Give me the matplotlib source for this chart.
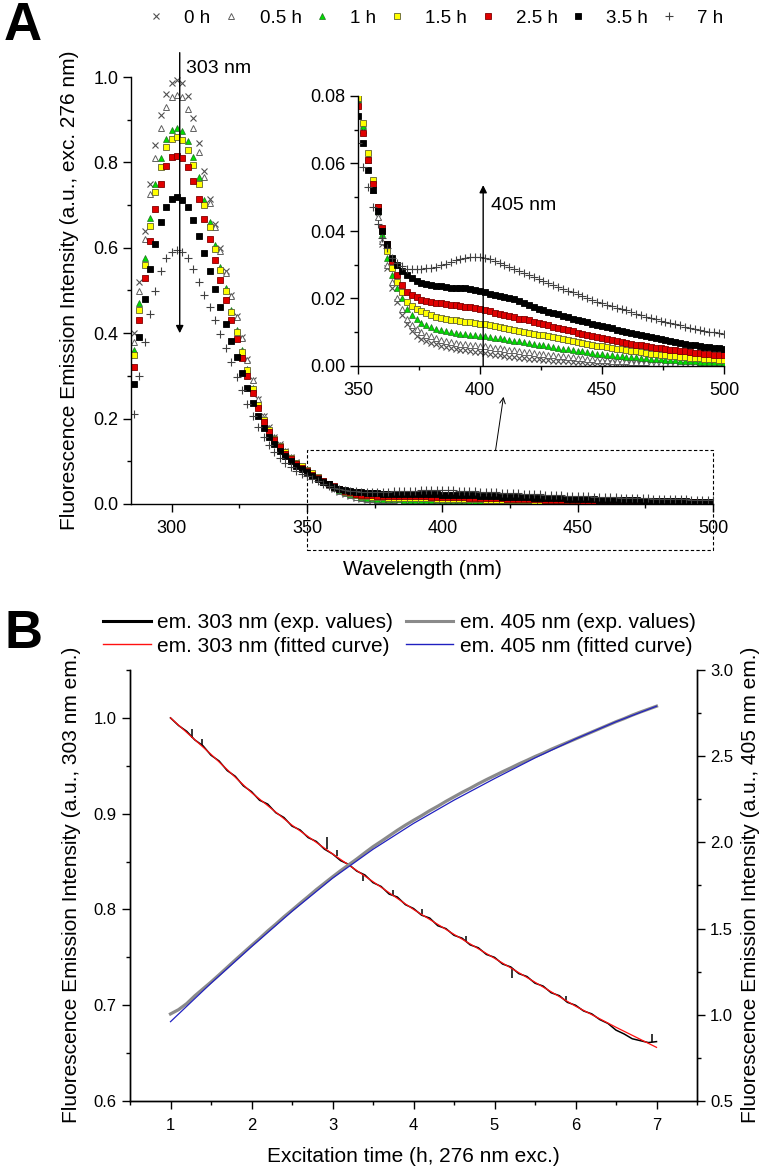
import numpy as np
import matplotlib
matplotlib.use('Agg')
import matplotlib.pyplot as plt
from matplotlib.lines import Line2D
from matplotlib.patches import Rectangle
from matplotlib.ticker import MultipleLocator, FormatStrFormatter

plt.rcParams['font.family'] = ['Liberation Sans', 'DejaVu Sans']

# ─── DATA panel A : emission spectra (exc. 276 nm), 2 nm sampling ───
wavelength = np.arange(286, 501, 2)
series_labels = ['0 h', '0.5 h', '1 h', '1.5 h', '2.5 h', '3.5 h', '7 h']

# 286 .. 350 nm
head_0h = [0.40, 0.52, 0.64, 0.75, 0.84, 0.91, 0.96, 0.985, 0.993, 0.985,
           0.955, 0.905, 0.845, 0.78, 0.715, 0.655, 0.60, 0.545, 0.49, 0.44,
           0.39, 0.34, 0.29, 0.245, 0.205, 0.18, 0.158, 0.14, 0.124, 0.11,
           0.098, 0.088, 0.080]
head_05h = [0.38, 0.50, 0.62, 0.725, 0.81, 0.88, 0.93, 0.953, 0.959, 0.952,
            0.925, 0.88, 0.825, 0.765, 0.705, 0.648, 0.593, 0.54, 0.488, 0.438,
            0.388, 0.338, 0.29, 0.245, 0.205, 0.179, 0.157, 0.139, 0.123, 0.109,
            0.097, 0.087, 0.079]
head_1h = [0.36, 0.47, 0.575, 0.67, 0.75, 0.81, 0.855, 0.877, 0.881, 0.874,
           0.85, 0.812, 0.765, 0.713, 0.66, 0.607, 0.555, 0.505, 0.455, 0.407,
           0.36, 0.315, 0.272, 0.233, 0.198, 0.174, 0.154, 0.137, 0.122, 0.108,
           0.097, 0.087, 0.079]
head_15h = [0.35, 0.455, 0.56, 0.65, 0.73, 0.79, 0.835, 0.855, 0.859, 0.852,
            0.83, 0.795, 0.75, 0.70, 0.648, 0.597, 0.547, 0.498, 0.45, 0.403,
            0.357, 0.313, 0.27, 0.232, 0.197, 0.173, 0.153, 0.136, 0.121, 0.108,
            0.097, 0.088, 0.0795]
head_25h = [0.32, 0.43, 0.53, 0.615, 0.69, 0.75, 0.792, 0.812, 0.816, 0.81,
            0.79, 0.757, 0.715, 0.668, 0.62, 0.572, 0.525, 0.478, 0.432, 0.387,
            0.343, 0.30, 0.26, 0.224, 0.191, 0.168, 0.149, 0.133, 0.118, 0.105,
            0.094, 0.085, 0.077]
head_35h = [0.28, 0.39, 0.48, 0.55, 0.61, 0.66, 0.695, 0.714, 0.719, 0.713,
            0.695, 0.665, 0.628, 0.588, 0.546, 0.504, 0.462, 0.421, 0.382, 0.344,
            0.307, 0.271, 0.237, 0.205, 0.177, 0.157, 0.14, 0.125, 0.112, 0.1,
            0.09, 0.081, 0.074]
head_7h = [0.21, 0.30, 0.38, 0.445, 0.50, 0.545, 0.575, 0.59, 0.594, 0.59,
           0.575, 0.55, 0.52, 0.49, 0.462, 0.43, 0.398, 0.365, 0.332, 0.298,
           0.266, 0.235, 0.206, 0.18, 0.157, 0.138, 0.122, 0.108, 0.096, 0.086,
           0.078, 0.071, 0.066]

# 352 .. 500 nm
tail_0h = [0.070, 0.061, 0.052, 0.044, 0.036, 0.029, 0.023, 0.019, 0.015, 0.0125,
           0.0105, 0.009, 0.0081, 0.0074, 0.0068, 0.0064, 0.006, 0.0056, 0.0053, 0.005,
           0.0048, 0.0046, 0.0044, 0.0042, 0.004, 0.0038, 0.0036, 0.0034, 0.0032, 0.003,
           0.0028, 0.0027, 0.0025, 0.0024, 0.0022, 0.0021, 0.002, 0.0019, 0.0017, 0.0016,
           0.0015, 0.0014, 0.0014, 0.0013, 0.0012, 0.0011, 0.001, 0.001, 0.0009, 0.0008,
           0.0008, 0.0008, 0.0007, 0.0007, 0.0007, 0.0006, 0.0006, 0.0006, 0.0006, 0.0005,
           0.0005, 0.0005, 0.0005, 0.0005, 0.0004, 0.0004, 0.0004, 0.0004, 0.0004, 0.0004,
           0.0003, 0.0003, 0.0003, 0.0003, 0.0003]
tail_05h = [0.070, 0.061, 0.052, 0.044, 0.037, 0.030, 0.025, 0.020, 0.017, 0.014,
            0.0122, 0.011, 0.0100, 0.0093, 0.0088, 0.0083, 0.0078, 0.0074, 0.0071, 0.0068,
            0.0066, 0.0064, 0.0062, 0.0061, 0.006, 0.0058, 0.0056, 0.0054, 0.0052, 0.005,
            0.0048, 0.0046, 0.0044, 0.0042, 0.004, 0.0038, 0.0037, 0.0035, 0.0033, 0.0032,
            0.003, 0.0029, 0.0027, 0.0026, 0.0024, 0.0023, 0.0022, 0.002, 0.0019, 0.0018,
            0.0017, 0.0016, 0.0016, 0.0015, 0.0014, 0.0013, 0.0012, 0.0012, 0.0011, 0.001,
            0.001, 0.0009, 0.0009, 0.0008, 0.0008, 0.0008, 0.0007, 0.0007, 0.0007, 0.0006,
            0.0006, 0.0006, 0.0005, 0.0005, 0.0005]
tail_1h = [0.071, 0.062, 0.054, 0.046, 0.039, 0.032, 0.027, 0.023, 0.020, 0.017,
           0.0152, 0.0138, 0.0128, 0.0121, 0.0115, 0.0111, 0.0107, 0.0103, 0.0100, 0.0098,
           0.0096, 0.0094, 0.0092, 0.0091, 0.009, 0.0088, 0.0086, 0.0084, 0.0082, 0.008,
           0.0078, 0.0075, 0.0073, 0.007, 0.0068, 0.0066, 0.0063, 0.0061, 0.0058, 0.0056,
           0.0054, 0.0051, 0.0049, 0.0047, 0.0045, 0.0043, 0.0041, 0.0039, 0.0037, 0.0036,
           0.0034, 0.0033, 0.0031, 0.003, 0.0028, 0.0027, 0.0026, 0.0024, 0.0023, 0.0022,
           0.0021, 0.002, 0.0019, 0.0018, 0.0017, 0.0016, 0.0015, 0.0015, 0.0014, 0.0013,
           0.0013, 0.0012, 0.0011, 0.0011, 0.001]
tail_15h = [0.072, 0.063, 0.055, 0.047, 0.040, 0.034, 0.029, 0.025, 0.022, 0.019,
            0.0178, 0.0169, 0.0162, 0.0156, 0.015, 0.0146, 0.0142, 0.0139, 0.0137, 0.0135,
            0.0133, 0.0131, 0.0129, 0.0127, 0.0125, 0.0123, 0.0121, 0.0119, 0.0116, 0.0113,
            0.011, 0.0107, 0.0104, 0.0101, 0.0098, 0.0096, 0.0093, 0.0091, 0.0088, 0.0085,
            0.0082, 0.0079, 0.0076, 0.0074, 0.0071, 0.0068, 0.0065, 0.0063, 0.006, 0.0058,
            0.0056, 0.0053, 0.0051, 0.0049, 0.0047, 0.0045, 0.0043, 0.0041, 0.0039, 0.0037,
            0.0035, 0.0034, 0.0032, 0.0031, 0.0029, 0.0028, 0.0027, 0.0025, 0.0024, 0.0023,
            0.0022, 0.0021, 0.002, 0.0019, 0.0018]
tail_25h = [0.069, 0.061, 0.054, 0.047, 0.041, 0.036, 0.031, 0.027, 0.024, 0.022,
            0.0211, 0.0203, 0.0197, 0.0193, 0.019, 0.0188, 0.0186, 0.0184, 0.0182, 0.018,
            0.0178, 0.0176, 0.0174, 0.0172, 0.017, 0.0166, 0.0162, 0.0158, 0.0154, 0.015,
            0.0147, 0.0144, 0.014, 0.0138, 0.0135, 0.0131, 0.0127, 0.0123, 0.012, 0.0117,
            0.0113, 0.011, 0.0106, 0.0103, 0.0099, 0.0095, 0.0092, 0.0088, 0.0085, 0.0082,
            0.0079, 0.0076, 0.0074, 0.0071, 0.0068, 0.0066, 0.0063, 0.0061, 0.0058, 0.0056,
            0.0054, 0.0052, 0.0049, 0.0047, 0.0046, 0.0044, 0.0043, 0.0041, 0.0039, 0.0038,
            0.0037, 0.0036, 0.0034, 0.0033, 0.0032]
tail_35h = [0.066, 0.058, 0.052, 0.046, 0.040, 0.036, 0.032, 0.030, 0.028, 0.027,
            0.026, 0.0253, 0.0247, 0.0243, 0.024, 0.0238, 0.0236, 0.0234, 0.0232, 0.023,
            0.023, 0.023, 0.0228, 0.0225, 0.0222, 0.0218, 0.0213, 0.021, 0.0208, 0.0205,
            0.0202, 0.0198, 0.0192, 0.0186, 0.018, 0.0175, 0.017, 0.0166, 0.0161, 0.0157,
            0.0153, 0.0148, 0.0144, 0.014, 0.0136, 0.0132, 0.0129, 0.0125, 0.0122, 0.0118,
            0.0115, 0.0112, 0.0108, 0.0104, 0.0101, 0.0098, 0.0095, 0.0091, 0.0088, 0.0085,
            0.0082, 0.0079, 0.0076, 0.0073, 0.007, 0.0068, 0.0065, 0.0063, 0.0061, 0.0059,
            0.0057, 0.0055, 0.0053, 0.0052, 0.005]
tail_7h = [0.059, 0.053, 0.047, 0.042, 0.038, 0.035, 0.032, 0.0305, 0.0295, 0.0288,
           0.0286, 0.0286, 0.0287, 0.0289, 0.029, 0.0294, 0.0298, 0.0302, 0.0308, 0.0313,
           0.0317, 0.032, 0.0323, 0.0324, 0.0323, 0.0321, 0.0317, 0.0312, 0.0306, 0.030,
           0.0294, 0.0288, 0.0282, 0.0276, 0.027, 0.0264, 0.0258, 0.0252, 0.0246, 0.024,
           0.0234, 0.0229, 0.0223, 0.0218, 0.0212, 0.0207, 0.0202, 0.0196, 0.0191, 0.0186,
           0.0182, 0.0177, 0.0173, 0.0169, 0.0165, 0.016, 0.0155, 0.015, 0.0146, 0.0142,
           0.0138, 0.0134, 0.013, 0.0127, 0.0123, 0.012, 0.0117, 0.0114, 0.0111, 0.0108,
           0.0105, 0.0102, 0.01, 0.0097, 0.0095]

spectra = [head_0h + tail_0h, head_05h + tail_05h, head_1h + tail_1h,
           head_15h + tail_15h, head_25h + tail_25h, head_35h + tail_35h,
           head_7h + tail_7h]

# ─── DATA panel B : kinetics ───
t_exp = np.arange(1.0, 7.01, 0.1)
em303_exp = [1.000, 0.992, 0.986, 0.977, 0.971, 0.961, 0.955, 0.945, 0.939, 0.929,
             0.923, 0.914, 0.910, 0.901, 0.896, 0.887, 0.883, 0.875, 0.871, 0.863,
             0.858, 0.851, 0.847, 0.840, 0.836, 0.828, 0.824, 0.816, 0.813, 0.805,
             0.801, 0.794, 0.791, 0.783, 0.780, 0.773, 0.770, 0.763, 0.760, 0.753,
             0.750, 0.743, 0.740, 0.733, 0.730, 0.723, 0.720, 0.713, 0.710, 0.703,
             0.700, 0.694, 0.691, 0.685, 0.681, 0.674, 0.670, 0.665, 0.663, 0.661,
             0.662]
em405_exp = [1.005, 1.030, 1.065, 1.110, 1.150, 1.190, 1.232, 1.275, 1.318, 1.360,
             1.402, 1.443, 1.486, 1.526, 1.568, 1.607, 1.647, 1.686, 1.726, 1.763,
             1.800, 1.836, 1.870, 1.904, 1.940, 1.975, 2.006, 2.038, 2.070, 2.100,
             2.128, 2.155, 2.184, 2.210, 2.238, 2.264, 2.290, 2.314, 2.340, 2.364,
             2.387, 2.410, 2.432, 2.455, 2.476, 2.498, 2.518, 2.540, 2.560, 2.580,
             2.600, 2.620, 2.640, 2.660, 2.680, 2.700, 2.718, 2.738, 2.756, 2.773,
             2.790]
# short noise spikes on the 303 nm trace
spike_t = [1.27, 1.39, 2.93, 3.05, 3.38, 3.75, 4.11, 4.65, 5.21, 5.88, 6.95]
spike_base = [0.979, 0.971, 0.863, 0.856, 0.837, 0.815, 0.795, 0.766, 0.738, 0.705, 0.662]
spike_tip = [0.988, 0.978, 0.876, 0.862, 0.830, 0.820, 0.800, 0.772, 0.728, 0.710, 0.670]

t_fit = [1.0, 1.5, 2.0, 2.5, 3.0, 3.5, 4.0, 4.5, 5.0, 5.5, 6.0, 6.5, 7.0]
em303_fit = [1.000, 0.962, 0.922, 0.888, 0.858, 0.829, 0.800, 0.774, 0.749, 0.724, 0.699, 0.677, 0.656]
em405_fit = [0.960, 1.183, 1.395, 1.600, 1.792, 1.960, 2.110, 2.245, 2.370, 2.490, 2.600, 2.700, 2.790]

# ─── STYLE ───
marker_styles = [
    dict(marker='x', ms=5, mfc='none', mec='#505050', mew=0.8),
    dict(marker='^', ms=5, mfc='white', mec='#606060', mew=0.7),
    dict(marker='^', ms=5, mfc='#00dd00', mec='#207020', mew=0.5),
    dict(marker='s', ms=4.5, mfc='#ffff00', mec='#606030', mew=0.6),
    dict(marker='s', ms=4.5, mfc='#e00000', mec='#800000', mew=0.6),
    dict(marker='s', ms=4.5, mfc='black', mec='black', mew=0.6),
    dict(marker='+', ms=6, mfc='none', mec='#404040', mew=0.8),
]


def style_axis(ax, lsize):
    ax.tick_params(which='both', direction='out', width=1, labelsize=lsize)
    ax.tick_params(which='major', length=5.5)
    ax.tick_params(which='minor', length=3)
    for s in ax.spines.values():
        s.set_linewidth(1)


W, H = 764, 1171
fig = plt.figure(figsize=(W / 100, H / 100), dpi=100)

# ─── PANEL A main ───
ax = fig.add_axes([131 / W, 1 - 504 / H, 582 / W, 427 / H])
for y, st in zip(spectra, marker_styles):
    ax.plot(wavelength, y, ls='none', **st)
ax.set_xlim(285, 500)
ax.set_ylim(0, 1.0)
ax.xaxis.set_major_locator(MultipleLocator(50))
ax.xaxis.set_minor_locator(MultipleLocator(25))
ax.yaxis.set_major_locator(MultipleLocator(0.2))
ax.yaxis.set_minor_locator(MultipleLocator(0.1))
ax.yaxis.set_major_formatter(FormatStrFormatter('%.1f'))
ax.spines['top'].set_visible(False)
ax.spines['right'].set_visible(False)
style_axis(ax, 13)
ax.tick_params(axis='x', pad=6)

ax.annotate('', xy=(303, 0.40), xytext=(303, 1.057),
            arrowprops=dict(arrowstyle='-|>', color='k', lw=1, mutation_scale=11,
                            shrinkA=0, shrinkB=0), annotation_clip=False)
ax.text(305.3, 1.02, '303 nm', fontsize=14, va='center', ha='left', clip_on=False)

ax.add_patch(Rectangle((350, -0.108), 150, 0.234, fill=False, ls=(0, (3, 2)),
                       lw=0.8, ec='k', clip_on=False))
ax.annotate('', xy=(422.6, 0.251), xytext=(419.7, 0.127),
            arrowprops=dict(arrowstyle='->', color='k', lw=0.7, shrinkA=0, shrinkB=0),
            annotation_clip=False)

# ─── PANEL A inset ───
axi = fig.add_axes([358 / W, 1 - 366 / H, 366 / W, 270 / H])
for y, st in zip(spectra, marker_styles):
    axi.plot(wavelength, y, ls='none', **st)
axi.set_xlim(350, 500)
axi.set_ylim(0, 0.08)
axi.xaxis.set_major_locator(MultipleLocator(50))
axi.xaxis.set_minor_locator(MultipleLocator(25))
axi.yaxis.set_major_locator(MultipleLocator(0.02))
axi.yaxis.set_minor_locator(MultipleLocator(0.01))
axi.yaxis.set_major_formatter(FormatStrFormatter('%.2f'))
axi.spines['top'].set_visible(False)
axi.spines['right'].set_visible(False)
style_axis(axi, 13)
axi.tick_params(axis='x', pad=6)
axi.annotate('', xy=(401.3, 0.0536), xytext=(401.3, 0.0),
             arrowprops=dict(arrowstyle='-|>', color='k', lw=1, mutation_scale=11,
                             shrinkA=0, shrinkB=0))
axi.text(404.5, 0.0477, '405 nm', fontsize=14, va='center', ha='left')

fig.text(422 / W, 1 - 570 / H, 'Wavelength (nm)', fontsize=15, ha='center', va='center')
fig.text(70 / W, 1 - 290 / H, 'Fluorescence Emission Intensity (a.u., exc. 276 nm)',
         fontsize=15, ha='center', va='center', rotation=90)

handles_a = [Line2D([], [], ls='none', **st) for st in marker_styles]
fig.legend(handles_a, series_labels, loc='center left', bbox_to_anchor=(147 / W, 1 - 18 / H),
           ncol=7, frameon=False, fontsize=13.5, handlelength=1.0, handletextpad=1.0,
           columnspacing=0.6, borderpad=0, borderaxespad=0)

fig.text(4 / W, 1 - 26 / H, 'A', fontsize=38, fontweight='bold', va='center', ha='left')
fig.text(4 / W, 1 - 634 / H, 'B', fontsize=38, fontweight='bold', va='center', ha='left')

# ─── PANEL B ───
axb = fig.add_axes([130 / W, 1 - 1101 / H, 567 / W, 431 / H])
axr = axb.twinx()
axb.plot(t_exp, em303_exp, color='black', lw=1.1)
axb.vlines(spike_t, spike_base, spike_tip, color='black', lw=1.1)
axr.plot(t_exp, em405_exp, color='#8a8a8a', lw=2.3)
axb.plot(t_fit, em303_fit, color='#ff1010', lw=0.9)
axr.plot(t_fit, em405_fit, color='#2020c0', lw=0.9)

axb.set_xlim(0.5, 7.5)
axb.set_ylim(0.6, 1.05)
axr.set_ylim(0.5, 3.0)
axb.xaxis.set_major_locator(MultipleLocator(1))
axb.xaxis.set_minor_locator(MultipleLocator(0.5))
axb.yaxis.set_major_locator(MultipleLocator(0.1))
axb.yaxis.set_minor_locator(MultipleLocator(0.05))
axb.yaxis.set_major_formatter(FormatStrFormatter('%.1f'))
axr.yaxis.set_major_locator(MultipleLocator(0.5))
axr.yaxis.set_minor_locator(MultipleLocator(0.25))
axr.yaxis.set_major_formatter(FormatStrFormatter('%.1f'))
for a in (axb, axr):
    a.spines['top'].set_visible(False)
    style_axis(a, 12)
axb.tick_params(axis='y', pad=4)
axr.tick_params(axis='y', pad=4)
axb.tick_params(axis='x', pad=7)

fig.text(413 / W, 1 - 1157 / H, 'Excitation time (h, 276 nm exc.)', fontsize=15,
         ha='center', va='center')
fig.text(72 / W, 1 - 885 / H, 'Fluorescence Emission Intensity (a.u., 303 nm em.)',
         fontsize=15, ha='center', va='center', rotation=90)
fig.text(751 / W, 1 - 885 / H, 'Fluorescence Emission Intensity (a.u., 405 nm em.)',
         fontsize=15, ha='center', va='center', rotation=90)

handles_b = [Line2D([], [], color='black', lw=2.2), Line2D([], [], color='#ff1010', lw=1),
             Line2D([], [], color='#8a8a8a', lw=2.2), Line2D([], [], color='#2020c0', lw=1)]
labels_b = ['em. 303 nm (exp. values)', 'em. 303 nm (fitted curve)',
            'em. 405 nm (exp. values)', 'em. 405 nm (fitted curve)']
fig.legend(handles_b, labels_b, loc='center left', bbox_to_anchor=(103 / W, 1 - 634.5 / H),
           ncol=2, frameon=False, fontsize=15, handlelength=2.3, handletextpad=0.3,
           columnspacing=0.6, labelspacing=0.2, borderpad=0, borderaxespad=0)

fig.savefig('out.png', dpi=100)
